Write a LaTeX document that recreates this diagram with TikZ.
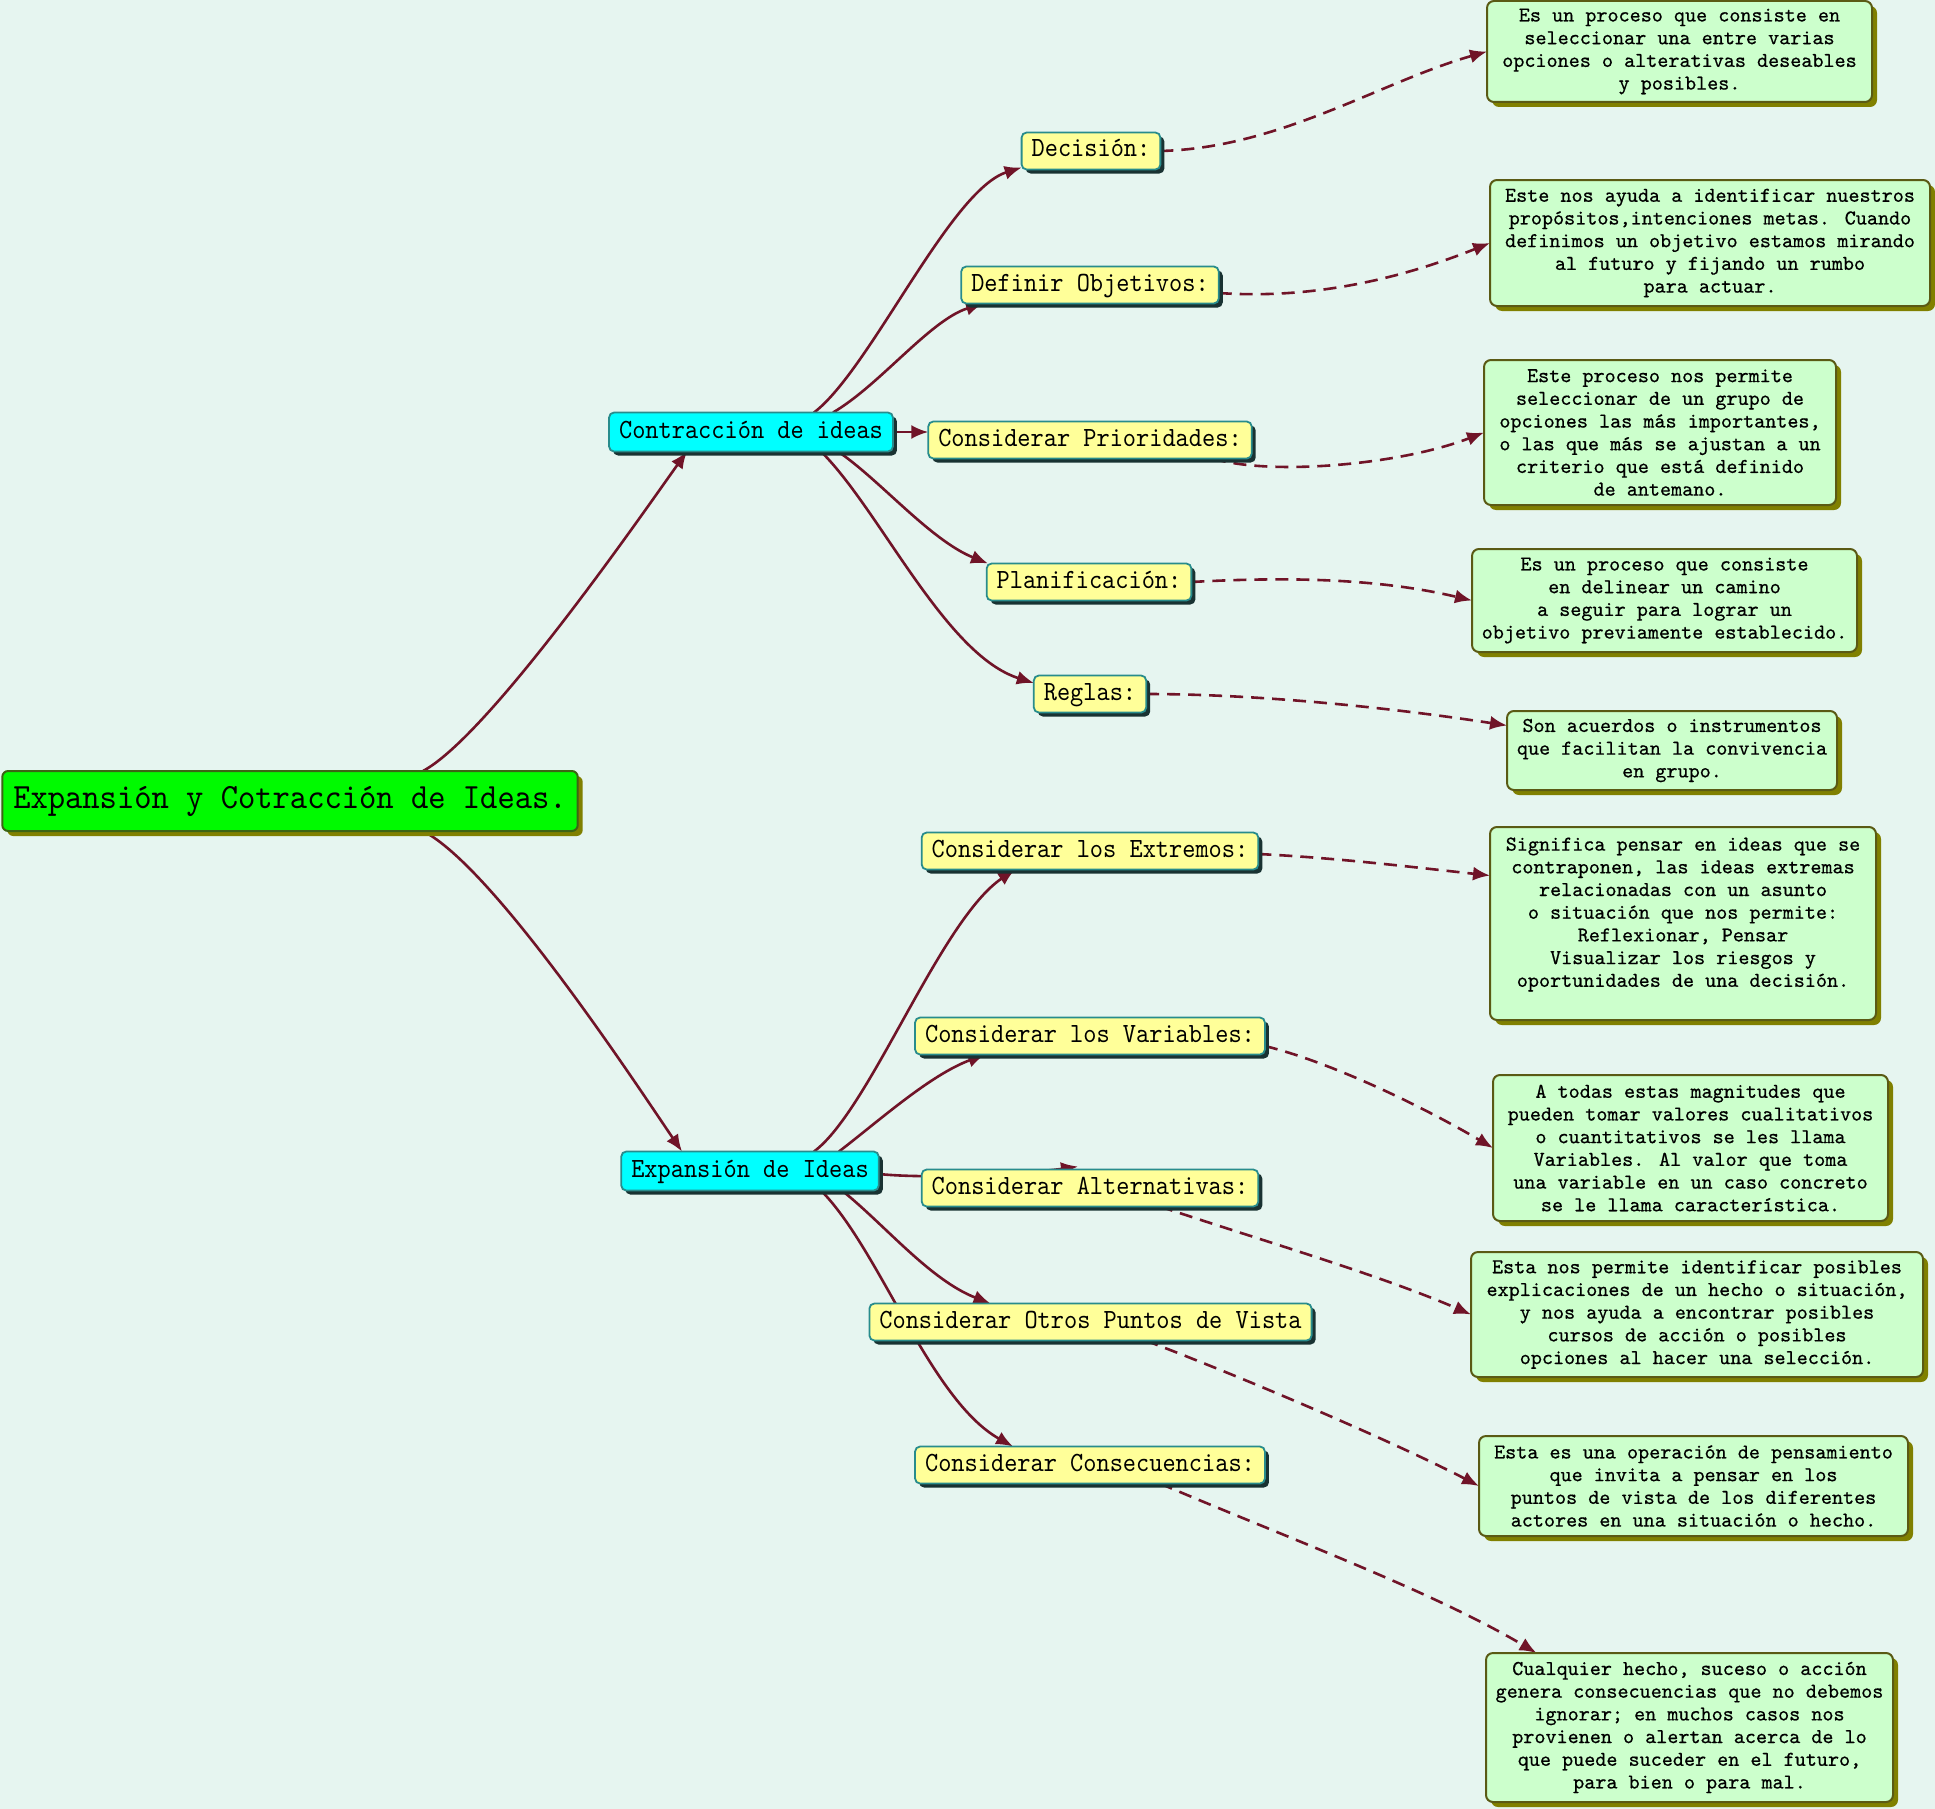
\documentclass[tikz,border=0pt]{standalone}
\usepackage{fontspec}
\usetikzlibrary{shadows,arrows.meta}
\newfontfamily\ynfam{lmmono10-regular.otf}[FakeStretch=0.904]
\newfontfamily\rtfam{lmmono10-regular.otf}[FakeStretch=0.928]
\newfontfamily\gbfam{lmmono10-regular.otf}[FakeBold=0.6]
\newcommand\ynfont{\ynfam\fontsize{27.8}{33}\selectfont}
\newcommand\gbfont{\gbfam\fontsize{21.1}{22.7}\selectfont}
\newcommand\rtfont{\rtfam\fontsize{35.5}{42}\selectfont}
\definecolor{bgc}{RGB}{230,245,240}
\definecolor{arrc}{RGB}{112,20,40}
\definecolor{yelc}{RGB}{255,255,153}
\definecolor{cyc}{RGB}{0,255,255}
\definecolor{tealb}{RGB}{40,140,140}
\definecolor{darksh}{RGB}{25,50,50}
\definecolor{limec}{RGB}{0,250,0}
\definecolor{rootb}{RGB}{60,100,20}
\definecolor{olivesh}{RGB}{128,128,0}
\definecolor{gfill}{RGB}{204,255,204}
\definecolor{gborder}{RGB}{90,90,20}
\pgfdeclarelayer{bg}
\pgfdeclarelayer{edges}
\pgfsetlayers{bg,edges,main}
\begin{document}
\begin{tikzpicture}[x=1pt,y=-1pt,
  ynode/.style={draw=tealb, line width=1.8pt, fill=yelc, rounded corners=5pt,
    inner xsep=10pt, inner ysep=0pt, outer sep=0pt, minimum height=37pt,
    text height=18pt, text depth=6pt, font=\ynfont,
    drop shadow={shadow xshift=4pt, shadow yshift=-4pt, fill=darksh, opacity=1}},
  cnode/.style={ynode, fill=cyc, minimum height=39pt},
  rootnode/.style={draw=rootb, line width=2pt, fill=limec, rounded corners=6pt,
    inner xsep=11pt, inner ysep=0pt, outer sep=0pt, minimum height=60pt,
    text height=23pt, text depth=8pt, font=\rtfont,
    drop shadow={shadow xshift=5pt, shadow yshift=-5pt, fill=olivesh, opacity=1}},
  gbox/.style={draw=gborder, line width=2pt, fill=gfill, rounded corners=7pt,
    align=center, font=\gbfont, inner sep=0pt, outer sep=0pt,
    drop shadow={shadow xshift=5pt, shadow yshift=-5pt, fill=olivesh, opacity=1}},
  conn/.style={draw=arrc, line width=2.6pt, -{Latex[length=17pt,width=14pt]}},
  dconn/.style={conn, dash pattern=on 13pt off 8pt}
]
\begin{pgfonlayer}{bg}
\fill[bgc] (0,0) rectangle (1935,1809);
\end{pgfonlayer}

% root and level 1
\node[rootnode] (root) at (290,801) {Expansión y Cotracción de Ideas.};
\node[cnode] (contr) at (751,432) {Contracción de ideas};
\node[cnode] (exp) at (750,1171) {Expansión de Ideas};

% level 2
\node[ynode] (dec) at (1091,151) {Decisión:};
\node[ynode] (def) at (1090,285) {Definir Objetivos:};
\node[ynode] (prio) at (1090,440) {Considerar Prioridades:};
\node[ynode] (plan) at (1089,582) {Planificación:};
\node[ynode] (reg) at (1090,694) {Reglas:};
\node[ynode] (ext) at (1090,851) {Considerar los Extremos:~};
\node[ynode] (var) at (1090,1036) {Considerar los Variables:~};
\node[ynode] (alt) at (1090,1188) {Considerar Alternativas:};
\node[ynode] (otr) at (1090.5,1322) {Considerar Otros Puntos de Vista};
\node[ynode] (cons) at (1090,1465) {Considerar Consecuencias:};

% descriptions
\node[gbox, minimum width=385pt, minimum height=101pt] (b1) at (1679.5,51.5)
  {Es un proceso que consiste en\\seleccionar una entre varias\\opciones o alterativas deseables\\y posibles.};
\node[gbox, minimum width=440pt, minimum height=126pt] (b2) at (1710,243)
  {Este nos ayuda a identificar nuestros\\propósitos,intenciones metas. Cuando\\definimos un objetivo estamos mirando\\al futuro y fijando un rumbo\\para actuar.};
\node[gbox, minimum width=352pt, minimum height=145pt] (b3) at (1660,432.5)
  {Este proceso nos permite\\seleccionar de un grupo de\\opciones las más importantes,\\o las que más se ajustan a un\\criterio que está definido\\de antemano.};
\node[gbox, minimum width=385pt, minimum height=103pt] (b4) at (1664.5,600.5)
  {Es un proceso que consiste\\en delinear un camino\\a seguir para lograr un\\objetivo previamente establecido.};
\node[gbox, minimum width=330pt, minimum height=79pt] (b5) at (1672,750.5)
  {Son acuerdos o instrumentos\\que facilitan la convivencia\\en grupo.};
\node[gbox, minimum width=386pt, minimum height=193pt] (b6) at (1683,923.5)
  {Significa pensar en ideas que se\\contraponen, las ideas extremas\\relacionadas con un asunto\\o situación que nos permite:\\Reflexionar, Pensar\\Visualizar los riesgos y\\oportunidades de una decisión.\\\mbox{}};
\node[gbox, minimum width=395pt, minimum height=146pt] (b7) at (1690.5,1148)
  {A todas estas magnitudes que\\pueden tomar valores cualitativos\\o cuantitativos se les llama\\Variables. Al valor que toma\\una variable en un caso concreto\\se le llama característica.};
\node[gbox, minimum width=452pt, minimum height=125pt] (b8) at (1697,1314.5)
  {Esta nos permite identificar posibles\\explicaciones de un hecho o situación,\\y nos ayuda a encontrar posibles\\cursos de acción o posibles\\opciones al hacer una selección.};
\node[gbox, minimum width=429pt, minimum height=100pt] (b9) at (1693.5,1486)
  {Esta es una operación de pensamiento\\que invita a pensar en los\\puntos de vista de los diferentes\\actores en una situación o hecho.};
\node[gbox, minimum width=407pt, minimum height=149pt] (b10) at (1689.5,1727.5)
  {Cualquier hecho, suceso o acción\\genera consecuencias que no debemos\\ignorar; en muchos casos nos\\provienen o alertan acerca de lo\\que puede suceder en el futuro,\\para bien o para mal.};

\begin{pgfonlayer}{edges}
% solid connectors
\draw[conn] ([xshift=133pt]root.north) .. controls (490,735) and (645,510) .. ([xshift=-64pt]contr.south);
\draw[conn] ([xshift=133pt]root.south) .. controls (495,868) and (640,1090) .. ([xshift=-68pt]exp.north);
\draw[conn] ([xshift=63pt]contr.north) .. controls (870,370) and (950,190) .. ([yshift=2pt]dec.south west);
\draw[conn] ([xshift=82pt]contr.north) .. controls (880,385) and (930,320) .. ([xshift=-107pt]def.south);
\draw[conn] (contr.east) -- (contr.east -| prio.west);
\draw[conn] ([xshift=87pt]contr.south) .. controls (880,480) and (930,540) .. ([xshift=-101pt]plan.north);
\draw[conn] ([xshift=70pt]contr.south) .. controls (880,510) and (945,655) .. ([yshift=11pt]reg.west);
\draw[conn] ([xshift=64pt]exp.north) .. controls (870,1110) and (940,920) .. ([xshift=-75pt]ext.south);
\draw[conn] ([xshift=89pt]exp.north) .. controls (880,1120) and (930,1075) .. ([xshift=-105pt]var.south);
\draw[conn] ([yshift=-3pt]exp.east) .. controls (940,1180) and (1040,1172) .. ([xshift=-12pt,yshift=3pt]alt.north);
\draw[conn] ([xshift=92pt]exp.south) .. controls (885,1225) and (930,1280) .. ([xshift=-100pt]otr.north);
\draw[conn] ([xshift=71pt]exp.south) .. controls (880,1250) and (930,1400) .. ([xshift=-77pt]cons.north);
% dashed connectors
\draw[dconn] (dec.east) .. controls (1280,148) and (1380,82) .. (b1.west);
\draw[dconn] ([yshift=-8pt]def.east) .. controls (1320,300) and (1410,275) .. (b2.west);
\draw[dconn] ([xshift=123pt]prio.south) .. controls (1270,476) and (1400,465) .. (b3.west);
\draw[dconn] (plan.east) .. controls (1300,576) and (1385,580) .. (b4.west);
\draw[dconn] (reg.east) .. controls (1250,694) and (1380,706) .. ([yshift=25pt]b5.west);
\draw[dconn] ([yshift=-3pt]ext.east) .. controls (1340,858) and (1420,868) .. ([yshift=48pt]b6.west);
\draw[dconn] ([yshift=-10pt]var.east) .. controls (1330,1062) and (1420,1105) .. (b7.west);
\draw[dconn] ([xshift=70pt]alt.south) .. controls (1260,1240) and (1380,1275) .. (b8.west);
\draw[dconn] ([xshift=55pt]otr.south) .. controls (1250,1380) and (1400,1445) .. (b9.west);
\draw[dconn] ([xshift=70pt]cons.south) .. controls (1280,1535) and (1430,1590) .. ([xshift=-153pt]b10.north);
\end{pgfonlayer}
\end{tikzpicture}
\end{document}
